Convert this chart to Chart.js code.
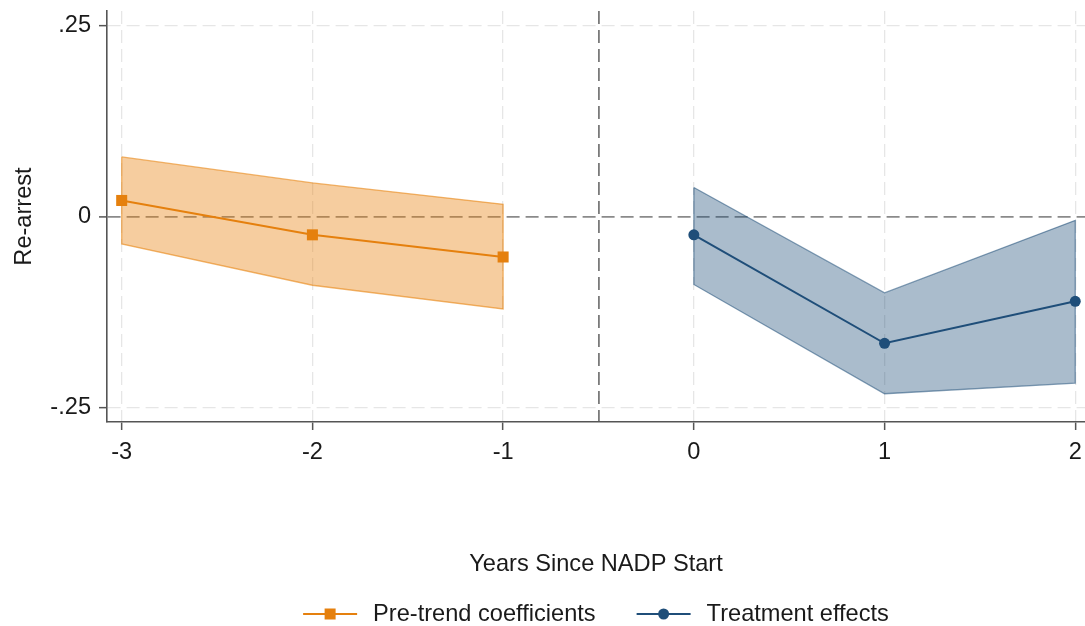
<!DOCTYPE html>
<html>
<head>
<meta charset="utf-8">
<title>Re-arrest event study</title>
<script src="https://cdn.jsdelivr.net/npm/chart.js@4.4.1/dist/chart.umd.min.js"></script>
<style>
  html,body{margin:0;padding:0;background:#fff;}
  #wrap{width:1085px;height:626px;}
</style>
</head>
<body>
<div id="wrap"><canvas id="c" width="1085" height="626"></canvas></div>
<script>
/* event-study plot: pre-trend vs treatment effects with CI bands */
const seriesNames=['Pre-trend coefficients','Treatment effects'];
const preX=[-3,-2,-1];
const preEst=[0.021,-0.024,-0.053];
const preHi=[0.078,0.044,0.016];
const preLo=[-0.036,-0.090,-0.121];
const postX=[0,1,2];
const postEst=[-0.024,-0.166,-0.111];
const postHi=[0.038,-0.100,-0.005];
const postLo=[-0.089,-0.232,-0.218];
const xTicks=[-3,-2,-1,0,1,2];
const xTickLabels=['-3','-2','-1','0','1','2'];
const yTicks=[-0.25,0,0.25];
const yTickLabels=['-.25','0','.25'];
const eventLine=-0.5;   // dashed vertical separator
const refLine=0;        // dashed horizontal zero line

const ORANGE='#e5800e', BLUE='#1f4e79', TXT='#1a1a1a', AX='#555';
const FONT='"Liberation Sans", Arial, sans-serif';
const FS=23.6;

const pts=(xs,ys)=>xs.map((x,i)=>({x,y:ys[i]}));
// closed outline round a band: upper left->right, lower right->left
const outline=(xs,hi,lo)=>pts(xs,hi).concat(pts(xs,lo).reverse(),[{x:xs[0],y:hi[0]}]);

const legendPlugin={
  id:'stataLegend',
  afterDraw(chart){
    const {ctx,chartArea}=chart;
    const items=[
      {text:seriesNames[0],color:ORANGE,shape:'rect'},
      {text:seriesNames[1],color:BLUE,shape:'circle'}
    ];
    const lineW=54, gapT=16, gapI=41;
    ctx.save();
    ctx.font=FS+'px '+FONT;
    let total=0;
    items.forEach((it,i)=>{it.w=ctx.measureText(it.text).width;total+=lineW+gapT+it.w+(i?gapI:0);});
    let x=(chartArea.left+chartArea.right)/2-total/2;
    const y=chart.height-12;
    ctx.textBaseline='middle';
    items.forEach((it,i)=>{
      if(i) x+=gapI;
      ctx.strokeStyle=it.color; ctx.lineWidth=2;
      ctx.beginPath(); ctx.moveTo(x,y); ctx.lineTo(x+lineW,y); ctx.stroke();
      ctx.fillStyle=it.color;
      if(it.shape==='rect') ctx.fillRect(x+lineW/2-5.5,y-5.5,11,11);
      else {ctx.beginPath();ctx.arc(x+lineW/2,y,5.5,0,Math.PI*2);ctx.fill();}
      x+=lineW+gapT;
      ctx.fillStyle=TXT; ctx.fillText(it.text,x,y);
      x+=it.w;
    });
    ctx.restore();
  }
};

new Chart(document.getElementById('c'),{
  type:'line',
  data:{datasets:[
    {label:seriesNames[0],data:pts(preX,preEst),borderColor:ORANGE,borderWidth:2,
     pointStyle:'rect',pointRadius:7.8,pointBackgroundColor:ORANGE,pointBorderWidth:0,fill:false},
    {label:seriesNames[1],data:pts(postX,postEst),borderColor:BLUE,borderWidth:2,
     pointStyle:'circle',pointRadius:5.5,pointBackgroundColor:BLUE,pointBorderWidth:0,fill:false},
    {label:'pre band edge',data:outline(preX,preHi,preLo),borderColor:'rgba(232,131,15,0.6)',borderWidth:1.3,pointRadius:0,fill:false},
    {label:'post band edge',data:outline(postX,postHi,postLo),borderColor:'rgba(31,78,121,0.55)',borderWidth:1.3,pointRadius:0,fill:false},
    {label:'pre hi',data:pts(preX,preHi),borderWidth:0,pointRadius:0,fill:5,backgroundColor:'rgba(232,131,15,0.4)'},
    {label:'pre lo',data:pts(preX,preLo),borderWidth:0,pointRadius:0,fill:false},
    {label:'post hi',data:pts(postX,postHi),borderWidth:0,pointRadius:0,fill:7,backgroundColor:'rgba(31,78,121,0.38)'},
    {label:'post lo',data:pts(postX,postLo),borderWidth:0,pointRadius:0,fill:false}
  ]},
  options:{
    responsive:false,animation:false,
    layout:{autoPadding:false,padding:{top:11,right:0,bottom:0,left:0}},
    plugins:{legend:{display:false},tooltip:{enabled:false}},
    scales:{
      x:{type:'linear',min:-3.077,max:2.051,
        afterBuildTicks:s=>{s.ticks=xTicks.concat([eventLine]).map(v=>({value:v}));},
        afterFit:s=>{s.height=204;s.paddingLeft=0;s.paddingRight=0;},
        ticks:{padding:8,color:TXT,font:{family:FONT,size:FS},maxRotation:0,
          callback:v=>{const i=xTicks.indexOf(v);return i<0?'':xTickLabels[i];}},
        grid:{color:c=>c.tick&&c.tick.value===eventLine?'#7a7a7a':'#e6e6e6',
          lineWidth:c=>c.tick&&c.tick.value===eventLine?1.8:1.3,
          tickColor:c=>c.tick&&c.tick.value===eventLine?'rgba(0,0,0,0)':AX,
          tickLength:8,tickWidth:1.5},
        border:{color:AX,width:1.6,dash:[13,6]},
        title:{display:true,text:'Years Since NADP Start',color:TXT,font:{family:FONT,size:FS},padding:{top:0,bottom:47}}
      },
      y:{type:'linear',min:-0.269,max:0.269,
        afterBuildTicks:s=>{s.ticks=yTicks.map(v=>({value:v}));},
        afterFit:s=>{s.width=107;s.paddingTop=0;s.paddingBottom=0;},
        ticks:{padding:8,color:TXT,font:{family:FONT,size:FS},
          callback:v=>{const i=yTicks.indexOf(v);return i<0?'':yTickLabels[i];}},
        grid:{color:c=>c.tick&&c.tick.value===refLine?'#8a8a8a':'#e6e6e6',
          lineWidth:c=>c.tick&&c.tick.value===refLine?1.8:1.3,
          tickColor:AX,tickLength:8,tickWidth:1.5},
        border:{color:AX,width:1.6,dash:[13,6]},
        title:{display:true,text:'Re-arrest',color:TXT,font:{family:FONT,size:FS},padding:{top:10,bottom:0}}
      }
    }
  },
  plugins:[legendPlugin]
});
</script>
</body>
</html>
